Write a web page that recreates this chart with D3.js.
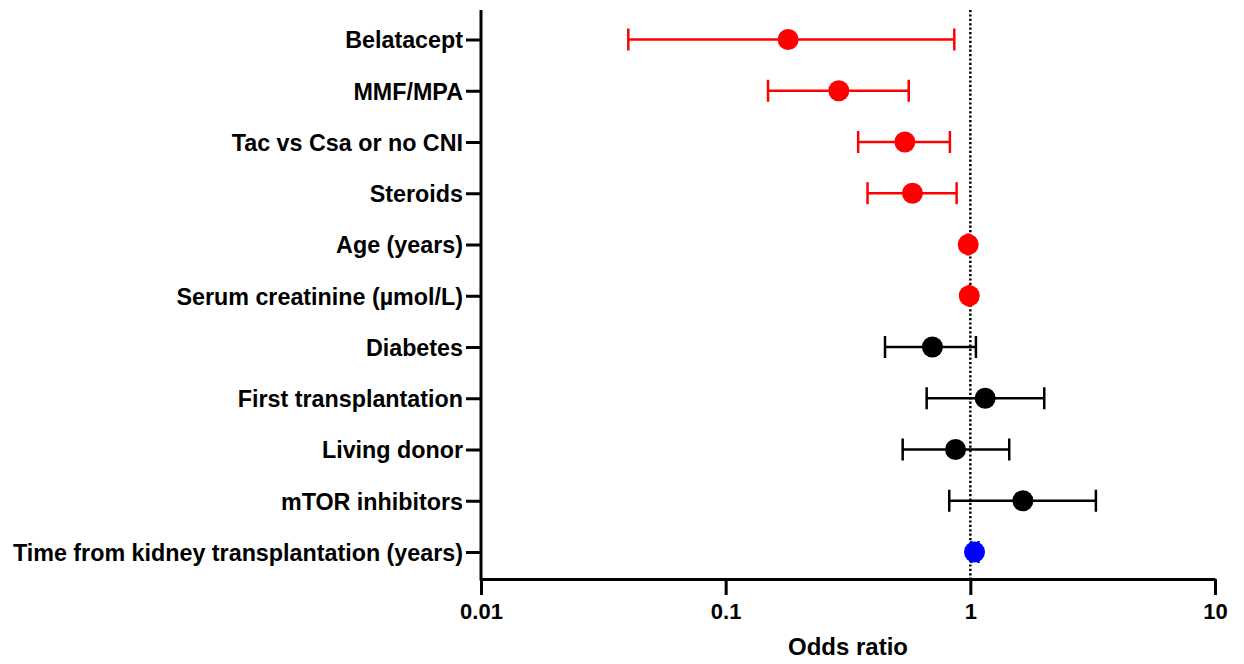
<!DOCTYPE html>
<html>
<head>
<meta charset="utf-8">
<script src="https://cdn.jsdelivr.net/npm/d3@7"></script>
<style>
  html, body { margin: 0; padding: 0; background: #fff; }
  svg { display: block; font-family: "Liberation Sans", Arial, sans-serif; }
</style>
</head>
<body>
<svg id="chart" width="1244" height="664"></svg>
<script>
// ---- Data ----
const categories = [
  "Belatacept",
  "MMF/MPA",
  "Tac vs Csa or no CNI",
  "Steroids",
  "Age (years)",
  "Serum creatinine (µmol/L)",
  "Diabetes",
  "First transplantation",
  "Living donor",
  "mTOR inhibitors",
  "Time from kidney transplantation (years)"
];
const oddsRatio = [0.18, 0.29, 0.54, 0.58, 0.98, 0.99, 0.70, 1.15, 0.87, 1.64, 1.04];
const ciLower   = [0.04, 0.149, 0.348, 0.38, 0.97, 0.985, 0.448, 0.663, 0.529, 0.82, 1.01];
const ciUpper   = [0.86, 0.56, 0.825, 0.879, 0.99, 0.995, 1.054, 2.005, 1.442, 3.26, 1.08];
const groups    = ["sig", "sig", "sig", "sig", "sig", "sig", "ns", "ns", "ns", "ns", "pos"];
const xTicks    = [0.01, 0.1, 1, 10];
const xTickLabels = ["0.01", "0.1", "1", "10"];
const xTitle = "Odds ratio";
const colorOf = { sig: "#ff0000", ns: "#000000", pos: "#0000ff" };

const rows = categories.map((c, i) => ({
  name: c, or: oddsRatio[i], lo: ciLower[i], hi: ciUpper[i], g: groups[i]
}));

// ---- Layout ----
const axisX = 481, axisTop = 10, axisBottom = 579, axisRight = 1215;
const svg = d3.select("#chart");

const x = d3.scaleLog().domain([0.01, 10]).range([axisX, axisRight]);
const y = d3.scalePoint().domain(categories).range([39.5, 552]);

// reference line at OR = 1
svg.append("line")
  .attr("x1", x(1)).attr("x2", x(1))
  .attr("y1", axisTop).attr("y2", axisBottom)
  .attr("stroke", "#000").attr("stroke-width", 2.5)
  .attr("stroke-dasharray", "2.2,2.2");

// error bars
const eb = svg.append("g").selectAll("g").data(rows).join("g")
  .attr("stroke", d => colorOf[d.g]).attr("stroke-width", 2.5);
eb.append("line")
  .attr("x1", d => x(d.lo)).attr("x2", d => x(d.hi))
  .attr("y1", d => y(d.name)).attr("y2", d => y(d.name));
eb.append("line")
  .attr("x1", d => x(d.lo)).attr("x2", d => x(d.lo))
  .attr("y1", d => y(d.name) - 11).attr("y2", d => y(d.name) + 11);
eb.append("line")
  .attr("x1", d => x(d.hi)).attr("x2", d => x(d.hi))
  .attr("y1", d => y(d.name) - 11).attr("y2", d => y(d.name) + 11);

// points
svg.append("g").selectAll("circle").data(rows).join("circle")
  .attr("cx", d => x(d.or)).attr("cy", d => y(d.name))
  .attr("r", 10.5).attr("fill", d => colorOf[d.g]);

// y axis
const yAxis = d3.axisLeft(y).tickSize(15).tickPadding(3).tickSizeOuter(0);
const gy = svg.append("g").attr("transform", `translate(${axisX},0)`).call(yAxis);
gy.select(".domain").remove();
gy.selectAll(".tick line").attr("stroke", "#000").attr("stroke-width", 3);
gy.selectAll(".tick text")
  .attr("fill", "#000").attr("font-size", 23.3).attr("font-weight", "bold")
  .attr("font-family", "'Liberation Sans', Arial, sans-serif")
  .attr("dy", "0.36em");
svg.append("line")
  .attr("x1", axisX).attr("x2", axisX)
  .attr("y1", axisTop).attr("y2", axisBottom + 1.5)
  .attr("stroke", "#000").attr("stroke-width", 3);

// x axis
const xAxis = d3.axisBottom(x).tickValues(xTicks)
  .tickFormat((d, i) => xTickLabels[i]).tickSize(16).tickPadding(8).tickSizeOuter(0);
const gx = svg.append("g").attr("transform", `translate(0,${axisBottom})`).call(xAxis);
gx.select(".domain").attr("stroke", "#000").attr("stroke-width", 3);
gx.selectAll(".tick line").attr("stroke", "#000").attr("stroke-width", 3);
gx.selectAll(".tick text")
  .attr("fill", "#000").attr("font-size", 22).attr("font-weight", "bold")
  .attr("font-family", "'Liberation Sans', Arial, sans-serif");

svg.append("text")
  .attr("x", (axisX + axisRight) / 2).attr("y", 655)
  .attr("text-anchor", "middle")
  .attr("font-size", 24).attr("font-weight", "bold").attr("fill", "#000")
  .text(xTitle);
</script>
</body>
</html>
